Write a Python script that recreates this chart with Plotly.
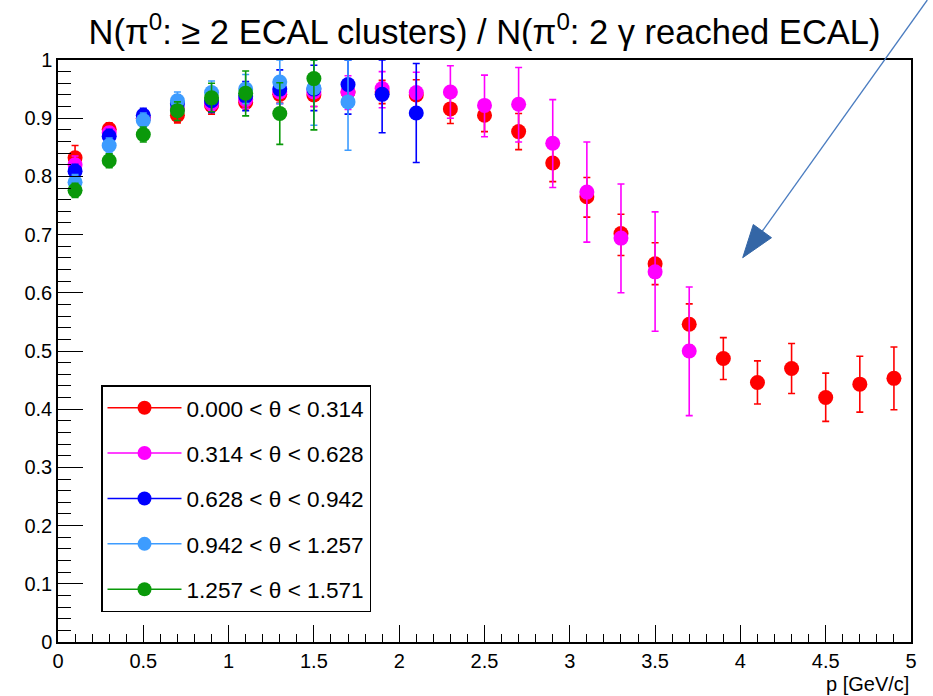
import plotly.graph_objects as go

# ---------------- data ----------------
p_bins = [0.1, 0.3, 0.5, 0.7, 0.9, 1.1, 1.3, 1.5, 1.7, 1.9, 2.1, 2.3, 2.5,
          2.7, 2.9, 3.1, 3.3, 3.5, 3.7, 3.9, 4.1, 4.3, 4.5, 4.7, 4.9]

labels = ["0.000 < θ < 0.314", "0.314 < θ < 0.628", "0.628 < θ < 0.942",
          "0.942 < θ < 1.257", "1.257 < θ < 1.571"]

eff_0 = [0.832, 0.881, 0.900, 0.905, 0.922, 0.927, 0.941, 0.940, 0.945, 0.945,
         0.940, 0.916, 0.905, 0.877, 0.823, 0.765, 0.702, 0.650, 0.546, 0.487,
         0.446, 0.470, 0.420, 0.443, 0.453]
errp_0 = [0.021, 0.011, 0.009, 0.010, 0.012, 0.012, 0.015, 0.020, 0.020, 0.020,
          0.026, 0.023, 0.025, 0.031, 0.032, 0.033, 0.033, 0.036, 0.035, 0.036,
          0.037, 0.043, 0.042, 0.048, 0.054]
errm_0 = [0.020, 0.011, 0.009, 0.013, 0.015, 0.010, 0.015, 0.020, 0.020, 0.020,
          0.025, 0.025, 0.028, 0.031, 0.032, 0.035, 0.038, 0.036, 0.036, 0.036,
          0.037, 0.043, 0.041, 0.048, 0.054]

eff_1 = [0.820, 0.875, 0.900, 0.915, 0.925, 0.932, 0.945, 0.945, 0.945, 0.951,
         0.944, 0.945, 0.922, 0.924, 0.857, 0.773, 0.694, 0.636, 0.500]
errp_1 = [0.015, 0.010, 0.010, 0.010, 0.012, 0.015, 0.020, 0.025, 0.028, 0.029,
          0.035, 0.045, 0.052, 0.063, 0.075, 0.086, 0.093, 0.103, 0.110]
errm_1 = [0.015, 0.010, 0.010, 0.010, 0.012, 0.015, 0.020, 0.025, 0.030, 0.033,
          0.035, 0.045, 0.054, 0.065, 0.076, 0.086, 0.094, 0.102, 0.111]

eff_2 = [0.809, 0.869, 0.905, 0.925, 0.930, 0.938, 0.950, 0.950, 0.958, 0.941, 0.909]
errp_2 = [0.012, 0.012, 0.012, 0.015, 0.020, 0.025, 0.033, 0.041, 0.042, 0.059, 0.085]
errm_2 = [0.012, 0.012, 0.012, 0.015, 0.020, 0.025, 0.035, 0.037, 0.051, 0.066, 0.085]

eff_3 = [0.790, 0.853, 0.896, 0.930, 0.944, 0.950, 0.962, 0.952, 0.928]
errp_3 = [0.013, 0.013, 0.013, 0.015, 0.020, 0.025, 0.038, 0.048, 0.072]
errm_3 = [0.013, 0.013, 0.013, 0.015, 0.020, 0.025, 0.037, 0.064, 0.083]

eff_4 = [0.776, 0.827, 0.872, 0.913, 0.935, 0.943, 0.908, 0.968]
errp_4 = [0.012, 0.012, 0.013, 0.015, 0.025, 0.038, 0.053, 0.032]
errm_4 = [0.012, 0.012, 0.013, 0.017, 0.024, 0.039, 0.053, 0.088]

colors = ["#ff0000", "#ff00ff", "#0000ff", "#3d9cff", "#0a990a"]

series = [(eff_0, errp_0, errm_0), (eff_1, errp_1, errm_1), (eff_2, errp_2, errm_2),
          (eff_3, errp_3, errm_3), (eff_4, errp_4, errm_4)]

FONT = "Liberation Sans, Arial, Helvetica, sans-serif"

# ---------------- figure ----------------
W, H = 933, 696
ML, MR, MT, MB = 58, 22, 60, 54
PW, PH = W - ML - MR, H - MT - MB

fig = go.Figure()

for i, (vals, ep, em) in enumerate(series):
    fig.add_trace(go.Scatter(
        x=p_bins[:len(vals)], y=vals, mode="markers",
        marker=dict(color=colors[i], size=15, line=dict(width=0)),
        error_y=dict(type="data", symmetric=False, array=ep, arrayminus=em,
                     color=colors[i], thickness=1.6, width=3.5),
        showlegend=False, hoverinfo="x+y"))

for i, lab in enumerate(labels):
    fig.add_trace(go.Scatter(
        x=[None], y=[None], mode="lines+markers", name=lab,
        legendgroup=f"g{i}",
        marker=dict(color=colors[i], size=14),
        line=dict(color=colors[i], width=1.5)))


def px2paper(px, py):
    return (px - ML) / PW, (H - MB - py) / PH


# arrow (annotation graphic in pixel-derived paper coordinates)
ax0, ay0 = px2paper(927.3, 0)
ax1, ay1 = px2paper(762.0, 231.5)
tip = px2paper(742.7, 257.7)
c1 = px2paper(753.3, 224.5)
c2 = px2paper(771.5, 237.7)
fig.add_shape(type="line", xref="paper", yref="paper", x0=ax0, y0=ay0, x1=ax1, y1=ay1,
              line=dict(color="#4a7cc0", width=1.3))
fig.add_shape(type="path", xref="paper", yref="paper",
              path=f"M{tip[0]},{tip[1]} L{c1[0]},{c1[1]} L{c2[0]},{c2[1]} Z",
              fillcolor="#3466a6", line=dict(color="#3466a6", width=1))

fig.add_annotation(text="p [GeV/c]", xref="paper", yref="paper", x=1.0, y=px2paper(0, 684)[1],
                   xanchor="right", yanchor="middle", showarrow=False,
                   font=dict(family=FONT, size=20, color="black"))

fig.update_layout(
    width=W, height=H,
    margin=dict(l=ML, r=MR, t=MT, b=MB),
    paper_bgcolor="white", plot_bgcolor="white",
    font=dict(family=FONT, color="black"),
    title=dict(text="N(π<sup>0</sup>: ≥ 2 ECAL clusters) / N(π<sup>0</sup>: 2 γ reached ECAL)",
               x=0.5, xref="paper", y=1 - 32 / H, yref="container",
               xanchor="center", yanchor="middle",
               font=dict(family=FONT, size=34.5, color="black")),
    xaxis=dict(range=[0, 5], tickvals=[0, 0.5, 1, 1.5, 2, 2.5, 3, 3.5, 4, 4.5, 5],
               ticktext=["0", "0.5", "1", "1.5", "2", "2.5", "3", "3.5", "4", "4.5", "5"],
               ticks="inside", ticklen=17, tickwidth=1, tickcolor="black",
               minor=dict(ticks="inside", ticklen=8, dtick=0.1, tick0=0, tickcolor="black", tickwidth=1),
               showline=True, linecolor="black", linewidth=1.5, mirror=True,
               showgrid=False, zeroline=False,
               tickfont=dict(family=FONT, size=20, color="black")),
    yaxis=dict(range=[0, 1], tickvals=[0, 0.1, 0.2, 0.3, 0.4, 0.5, 0.6, 0.7, 0.8, 0.9, 1],
               ticktext=["0", "0.1", "0.2", "0.3", "0.4", "0.5", "0.6", "0.7", "0.8", "0.9", "1"],
               ticks="inside", ticklen=25, tickwidth=1, tickcolor="black",
               minor=dict(ticks="inside", ticklen=13, dtick=0.02, tick0=0, tickcolor="black", tickwidth=1),
               showline=True, linecolor="black", linewidth=1.5, mirror=True,
               showgrid=False, zeroline=False,
               tickfont=dict(family=FONT, size=20, color="black")),
    legend=dict(x=px2paper(101, 0)[0], y=px2paper(0, 612)[1], xanchor="left", yanchor="bottom",
                bgcolor="white", bordercolor="black", borderwidth=1.5,
                font=dict(family=FONT, size=22.6, color="black"),
                tracegroupgap=13, itemwidth=74),
)

fig.write_html("out.html")
